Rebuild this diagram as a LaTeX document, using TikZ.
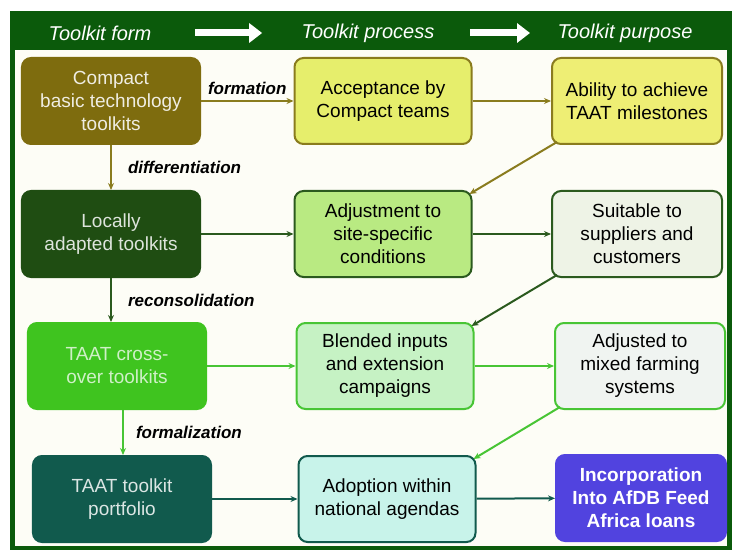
\documentclass[tikz,border=0pt]{standalone}
\usepackage{fontspec}
\setmainfont{Liberation Sans}
\usetikzlibrary{arrows.meta}

\definecolor{framegreen}{HTML}{0B5A0B}
\definecolor{paper}{HTML}{FDFDF6}
\definecolor{olive}{HTML}{7E6C0E}
\definecolor{oliveline}{HTML}{8A7C1E}
\definecolor{lime}{HTML}{E6EE6C}
\definecolor{sunny}{HTML}{EEEE74}
\definecolor{forest}{HTML}{1F4D12}
\definecolor{forestline}{HTML}{2B5A1E}
\definecolor{leaf}{HTML}{B9EA82}
\definecolor{pale}{HTML}{EEF3E6}
\definecolor{bright}{HTML}{3FC41F}
\definecolor{brightline}{HTML}{48C535}
\definecolor{mint}{HTML}{C6F2C4}
\definecolor{mist}{HTML}{F0F4F1}
\definecolor{teal}{HTML}{115A4D}
\definecolor{aqua}{HTML}{C8F3EA}
\definecolor{loanblue}{HTML}{5143DF}

\begin{document}
\begin{tikzpicture}[x=1bp, y=-1bp,
  box/.style = {shape=rectangle, rounded corners=9bp, draw,
    line width=2bp, align=center, minimum height=86bp,
    font=\fontsize{19bp}{23bp}\selectfont},
  formbox/.style = {box, minimum width=178bp},
  procbox/.style = {box, minimum width=177bp},
  purpbox/.style = {box, minimum width=170bp},
  head/.style = {text=white, font=\fontsize{20bp}{24bp}\selectfont\itshape},
  headarrow/.style = {white, line width=7bp,
    -{Triangle[length=13bp, width=19bp]}},
  flow/.style = {line width=2bp, -{Stealth[length=7bp, width=6bp]}},
  lbl/.style = {font=\fontsize{17bp}{20bp}\selectfont\bfseries\itshape,
    text=black, inner sep=2bp}]
  \useasboundingbox (0,0) rectangle (736,550);
  % frame and header band
  \fill[framegreen] (10,11) rectangle (732,550);
  \fill[paper] (15,50) rectangle (727,546);
  \node[head] (hform) at (100,33) {Toolkit form};
  \node[head] (hproc) at (368,33) {Toolkit process};
  \node[head] (hpurp) at (625,33) {Toolkit purpose};
  \draw[headarrow, shorten <=40bp, shorten >=36bp] (hform.east) -- (hproc.west);
  \draw[headarrow, shorten <=32bp, shorten >=24bp] (hproc.east) -- (hpurp.west);

  % row 1
  \node[formbox, fill=olive, draw=olive, text=white!88!olive] (compact) at (111,101)
    {Compact\\basic technology\\toolkits};
  \node[procbox, fill=lime, draw=oliveline] (accept) at (383,101)
    {Acceptance by\\Compact teams};
  \node[purpbox, fill=sunny, draw=oliveline] (ability) at (637,101)
    {Ability to achieve\\TAAT milestones};
  % row 2
  \node[formbox, fill=forest, draw=forest, text=white!85!forest] (local) at (111,234)
    {Locally\\adapted toolkits};
  \node[procbox, fill=leaf, draw=forestline] (adjust) at (383,234)
    {Adjustment to\\site-specific\\conditions};
  \node[purpbox, fill=pale, draw=forestline] (suitable) at (637,234)
    {Suitable to\\suppliers and\\customers};
  % row 3
  \node[formbox, fill=bright, draw=bright, text=white!75!bright] (cross) at (117,366)
    {TAAT cross-\\over toolkits};
  \node[procbox, fill=mint, draw=brightline] (blend) at (385,366)
    {Blended inputs\\and extension\\campaigns};
  \node[purpbox, fill=mist, draw=brightline] (mixed) at (640,366)
    {Adjusted to\\mixed farming\\systems};
  % row 4
  \node[formbox, fill=teal, draw=teal, text=white!85!teal] (portf) at (122,499)
    {TAAT toolkit\\portfolio};
  \node[procbox, fill=aqua, draw=teal] (adopt) at (387,499)
    {Adoption within\\national agendas};
  \node[purpbox, fill=loanblue, draw=loanblue, text=white,
    font=\fontsize{19bp}{23bp}\selectfont\bfseries] (afdb) at (641,498)
    {Incorporation\\Into AfDB Feed\\Africa loans};

  % connectors
  \draw[flow, oliveline] (compact) -- node[lbl, above=3bp] {formation} (accept);
  \draw[flow, oliveline] (accept) -- (ability);
  \draw[flow, oliveline] ([xshift=6bp,yshift=3bp]ability.south west)
    -- ([xshift=-3bp,yshift=-4bp]adjust.north east);
  \draw[flow, oliveline] (compact.south) -- node[lbl, right=14bp] {differentiation}
    (compact.south |- local.north);

  \draw[flow, forestline] (local) -- (adjust);
  \draw[flow, forestline] (adjust) -- (suitable);
  \draw[flow, forestline] ([xshift=6bp,yshift=3bp]suitable.south west)
    -- ([xshift=-3bp,yshift=-4bp]blend.north east);
  \draw[flow, forestline] (local.south) -- node[lbl, right=14bp] {reconsolidation}
    (local.south |- cross.north);

  \draw[flow, brightline] (cross) -- (blend);
  \draw[flow, brightline] (blend) -- (mixed);
  \draw[flow, brightline] ([xshift=6bp,yshift=3bp]mixed.south west)
    -- ([xshift=-3bp,yshift=-4bp]adopt.north east);
  \draw[flow, brightline] ([xshift=6bp]cross.south) -- node[lbl, right=10bp] {formalization}
    ([xshift=6bp]cross.south |- portf.north);

  \draw[flow, teal] (portf) -- (adopt);
  \draw[flow, teal] (adopt) -- (afdb);
\end{tikzpicture}
\end{document}
